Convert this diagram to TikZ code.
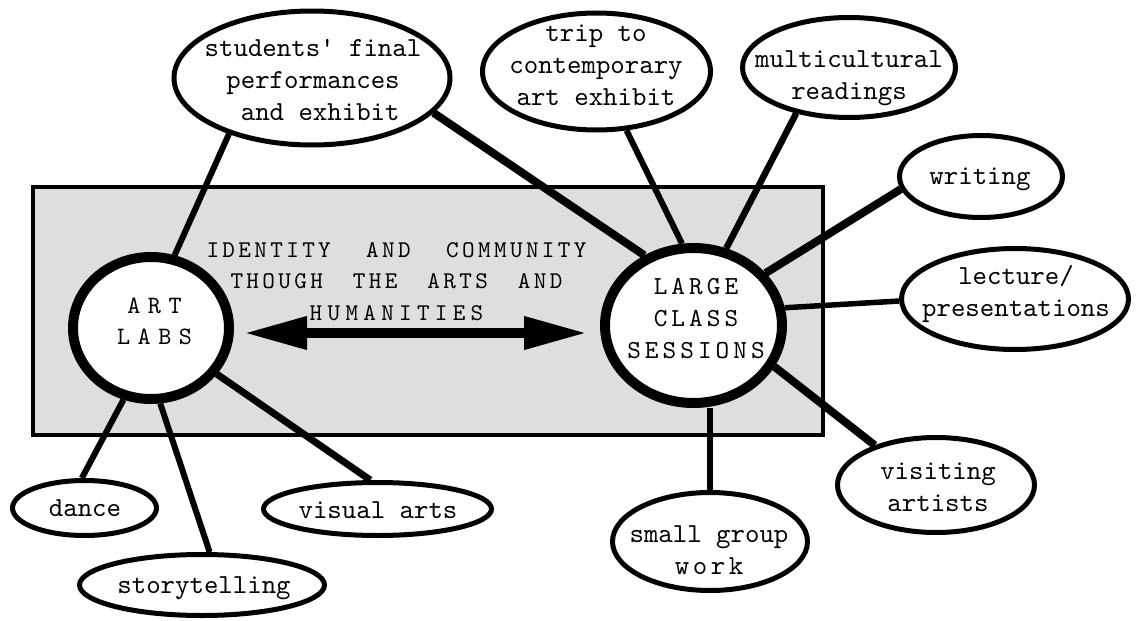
\documentclass[tikz,border=0pt]{standalone}
\usepackage{fontspec}
\newfontfamily\mono{lmmono10-regular}[Extension=.otf]
\usetikzlibrary{shapes.geometric,arrows.meta}
\pgfdeclarelayer{bg}
\pgfdeclarelayer{links}
\pgfsetlayers{bg,links,main}
\definecolor{boxgray}{RGB}{222,222,222}
\begin{document}
\begin{tikzpicture}[x=1pt,y=-1pt,
  bub/.style={ellipse, draw, line width=5pt, fill=white, inner sep=0pt},
  hub/.style={ellipse, draw, line width=10pt, fill=white, inner sep=0pt},
  lbl/.style={align=center, inner sep=0pt, font=\mono\fontsize{27.5}{32}\selectfont},
  capc/.style={align=center, inner sep=0pt, font=\mono\fontsize{24}{31.5}\selectfont\addfontfeature{LetterSpace=14}},
  capart/.style={align=center, inner sep=0pt, font=\mono\fontsize{25}{31}\selectfont\addfontfeature{LetterSpace=30}},
  caplarge/.style={align=center, inner sep=0pt, font=\mono\fontsize{26}{32}\selectfont\addfontfeature{LetterSpace=15.5}},
  link/.style={line width=6pt},
  bigarrow/.style={line width=10pt, {Triangle[length=63pt,width=31pt]}-{Triangle[length=63pt,width=31pt]}}
]
\useasboundingbox (0,0) rectangle (1136,621);
\begin{pgfonlayer}{bg}
\draw[line width=4.5pt, fill=boxgray] (33,187) rectangle (823,435);
\end{pgfonlayer}

% hubs
\node[hub, minimum width=156pt, minimum height=142pt] (art) at (151,328) {};
\node[hub, minimum width=177pt, minimum height=155pt] (large) at (693.5,325.5) {};
\node[capart] (art-t) at (154.5,322.5) {\strut ART\\\strut LABS};
\node[caplarge] (large-t) at (696,320) {\strut LARGE\\\strut CLASS\\\strut SESSIONS};

% bubbles
\node[bub, minimum width=276pt, minimum height=134pt] (stud) at (312,78) {};
\node[bub, minimum width=228pt, minimum height=117pt] (trip) at (596.5,71.5) {};
\node[bub, minimum width=213pt, minimum height=100pt] (multi) at (849,67.5) {};
\node[bub, minimum width=163pt, minimum height=82pt] (writ) at (981,176.5) {};
\node[bub, minimum width=227pt, minimum height=101pt] (lect) at (1015,299) {};
\node[bub, minimum width=197pt, minimum height=95pt] (visit) at (936,485) {};
\node[bub, minimum width=195pt, minimum height=98pt] (small) at (710,541.5) {};
\node[bub, minimum width=144pt, minimum height=55pt] (dance) at (84.5,508) {};
\node[bub, minimum width=245pt, minimum height=61pt] (story) at (202,585) {};
\node[bub, minimum width=228pt, minimum height=53pt] (visual) at (377.5,509) {};

\node[lbl] (stud-t) at (313,82) {\strut students' final\\\strut performances\\\strut \hphantom{x}and exhibit};
\node[lbl] (trip-t) at (596,67) {\strut trip to\\\strut contemporary\\\strut art exhibit};
\node[lbl] (multi-t) at (849,77.5) {\strut multicultural\\\strut readings};
\node[lbl] (writ-t) at (980,178) {\strut writing};
\node[lbl] (lect-t) at (1016,294) {\strut lecture/\\\strut presentations};
\node[lbl] (visit-t) at (938,489) {\strut visiting\\\strut artists};
\node[lbl] (small-t) at (709,552.5) {\strut small group\\\strut{\addfontfeature{LetterSpace=13}work}};
\node[lbl] (dance-t) at (85,510) {\strut dance};
\node[lbl] (story-t) at (204,587) {\strut storytelling};
\node[lbl] (visual-t) at (378,512) {\strut visual arts};

% centre title
\node[capc] (title) at (396.5,282.5) {\strut\makebox[380pt]{IDENTITY\hfill AND\hfill COMMUNITY}\\
  \strut\makebox[332pt]{THOUGH\hfill THE\hfill ARTS\hfill AND}\\
  \strut{\addfontfeature{LetterSpace=22}HUMANITIES}};

\begin{pgfonlayer}{links}
\draw[link] (stud.214.5) -- (art.72);
\draw[link, line width=8pt] (stud.344.8) -- (large.125.1);
\draw[link] (trip.297.5) -- (large.98.3);
\draw[link, line width=6.5pt] (multi.221.5) -- (large.67.4);
\draw[link, line width=8pt] (writ.189.7) -- (large.36.7);
\draw[link, line width=5.5pt] (lect.181.5) -- (large.11.6);
\draw[link, line width=8pt] (visit.147.1) -- (large.333.6);
\draw[link, line width=5.5pt] (small.north) -- (small.north |- large.south);
\draw[link] (art.249.4) -- (dance.95);
\draw[link] (art.277.6) -- (story.77);
\draw[link, line width=7pt] (art.325) -- (visual.104.5);
\draw[bigarrow, shorten <=10pt, shorten >=13pt] ([yshift=-5pt]art.east) -- ([yshift=-5pt]art.east -| large.west);
\end{pgfonlayer}
\end{tikzpicture}
\end{document}
